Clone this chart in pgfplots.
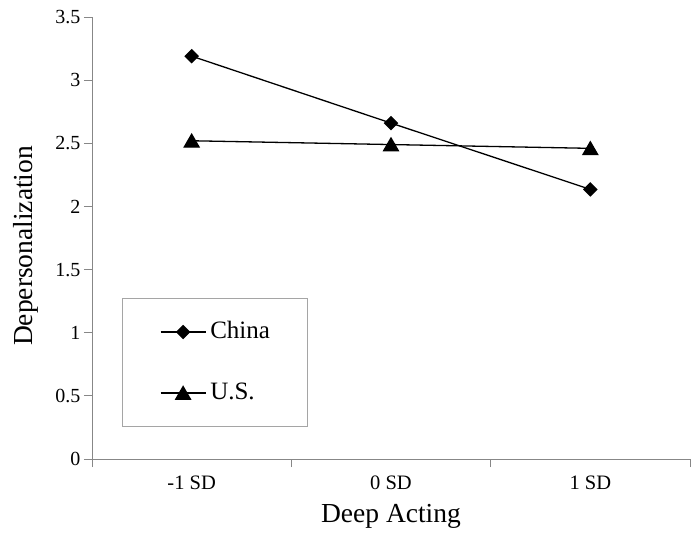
\documentclass[border=0pt]{standalone}
\usepackage{pgfplots}
\pgfplotsset{compat=1.18}
\usepackage{fontspec}
\setmainfont{Liberation Serif}
\definecolor{axgray}{RGB}{135,135,135}
\definecolor{leggray}{RGB}{165,165,165}
\begin{document}
\begin{tikzpicture}
\useasboundingbox (-92pt,-80pt) rectangle (599pt,459pt);
\begin{axis}[
  at={(0pt,0pt)}, anchor=south west,
  scale only axis, width=598pt, height=442pt,
  xmin=-0.5, xmax=2.5, ymin=0, ymax=3.5,
  axis x line*=bottom, axis y line*=left,
  axis line style={draw=axgray, line width=0.9pt, -},
  xtick={0,1,2}, xticklabels={-1 SD, 0 SD, 1 SD},
  minor xtick={-0.5,0.5,1.5,2.5},
  ytick={0,0.5,1,1.5,2,2.5,3,3.5},
  tick align=outside,
  major tick length=8pt, minor tick length=8pt,
  major x tick style={draw=none},
  every tick/.style={draw=axgray, line width=0.9pt},
  /pgf/number format/assume math mode=true,
  yticklabel style={font=\fontsize{20}{20}\selectfont},
  xticklabel style={font=\fontsize{20.5}{20.5}\selectfont, yshift=-5pt},
  xlabel={Deep Acting}, ylabel={Depersonalization},
  label style={font=\fontsize{27.5}{27.5}\selectfont},
  xlabel style={at={(axis description cs:0.5,0)}, anchor=north, yshift=-42pt},
  ylabel style={at={(axis description cs:-0.084,0.482)}, anchor=south},
  legend style={at={(0.0502,0.364)}, anchor=north west, draw=leggray, line width=0.9pt,
    inner xsep=37.5pt, inner ysep=23pt, column sep=4pt, row sep=40pt,
    font=\fontsize{25}{25}\selectfont,
    nodes={inner sep=0pt, text height=17pt, text depth=4pt}},
  legend cell align=left,
  legend image code/.code={\draw[#1, mark repeat=2, mark phase=2] plot coordinates {(0pt,0pt) (22.5pt,0pt) (45pt,0pt)};},
  clip=false,
]
\addplot[black, line width=1.3pt, mark=square*, mark size=4.5pt, mark options={rotate=45, solid}]
  coordinates {(0,3.19) (1,2.66) (2,2.135)};
\addlegendentry{China}
\addplot[black, line width=1.3pt, mark=triangle*, mark size=8.5pt, mark options={yshift=-2pt, solid}]
  coordinates {(0,2.52) (1,2.49) (2,2.46)};
\addlegendentry{U.S.}
\end{axis}
\end{tikzpicture}
\end{document}
